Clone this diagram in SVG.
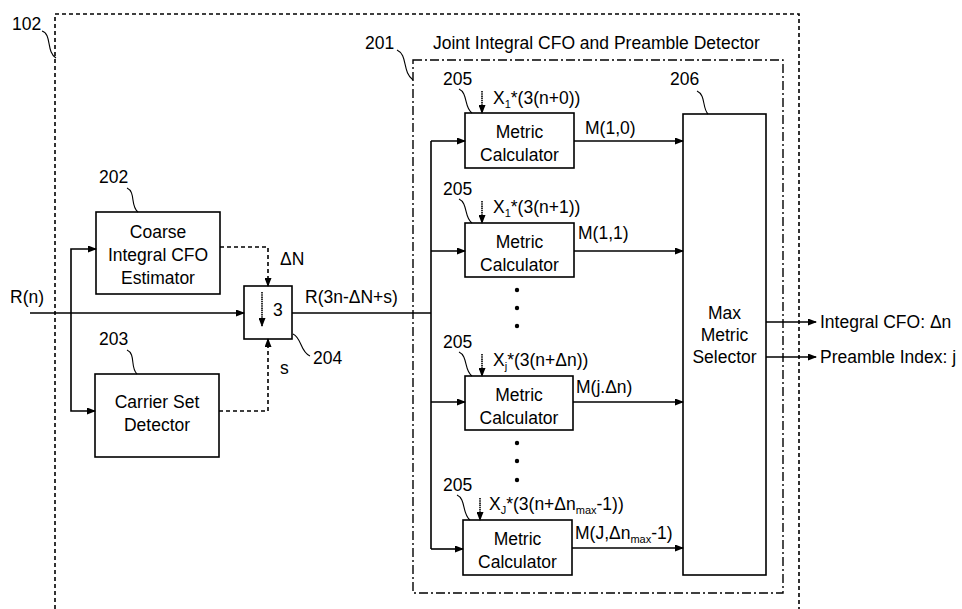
<svg xmlns="http://www.w3.org/2000/svg" width="962" height="609" viewBox="0 0 962 609">
<style>
text{font-family:"Liberation Sans",Arial,sans-serif;font-size:17.5px;fill:#000}
.c{text-anchor:middle}
.box{fill:#fff;stroke:#000;stroke-width:1.6}
.ln{fill:none;stroke:#000;stroke-width:1.6}
.dash{fill:none;stroke:#000;stroke-width:1.6;stroke-dasharray:4 3}
.lead{fill:none;stroke:#000;stroke-width:1.1}
.sub{font-size:11px}
</style>
<defs>
<marker id="ah" markerWidth="9" markerHeight="7" refX="8" refY="3.5" orient="auto" markerUnits="userSpaceOnUse">
<path d="M0,0 L9,3.5 L0,7 z" fill="#000"/>
</marker>
</defs>
<rect width="962" height="609" fill="#fff"/>
<g id="n102">
<path d="M55,609 V14 H799 V609" fill="none" stroke="#000" stroke-width="1.6" stroke-dasharray="4 3"/>
<text x="12" y="30">102</text>
<path class="lead" d="M42,31 C52,34 46,52 56,58"/>
</g>
<g id="n201">
<rect x="413" y="60" width="370" height="533" fill="none" stroke="#000" stroke-width="1.4" stroke-dasharray="9 3 2 3"/>
<text x="365" y="49">201</text>
<path class="lead" d="M397,50 C408,55 402,72 413,80"/>
<text x="433" y="49">Joint Integral CFO and Preamble Detector</text>
</g>
<g id="n202">
<rect class="box" x="96" y="212" width="124" height="82"/>
<text class="c" x="158" y="238">Coarse</text>
<text class="c" x="158" y="261">Integral CFO</text>
<text class="c" x="158" y="284">Estimator</text>
<text x="99" y="183">202</text>
<path class="lead" d="M127,188 C136,192 130,206 138,212"/>
</g>
<g id="n203">
<rect class="box" x="95" y="374" width="124" height="83"/>
<text class="c" x="157" y="408">Carrier Set</text>
<text class="c" x="157" y="431">Detector</text>
<text x="99" y="345">203</text>
<path class="lead" d="M127,350 C136,354 130,368 137,374"/>
</g>
<g id="n204">
<rect class="box" x="244" y="286" width="48" height="53"/>
<path class="ln" d="M262,292 V326" stroke-dasharray="1.5 0.7" marker-end="url(#ah)"/>
<text x="273" y="316">3</text>
<text x="313" y="364">204</text>
<path class="lead" d="M293,334 C302,338 300,352 310,356"/>
</g>
<g id="n205a">
<rect class="box" x="465" y="113" width="109" height="55"/>
<text class="c" x="519.5" y="138">Metric</text>
<text class="c" x="519.5" y="161">Calculator</text>
<text x="443" y="85">205</text>
<path class="lead" d="M459,89 C468,93 464,108 472,113"/>
<text x="493" y="104">X<tspan class="sub" dy="4">1</tspan><tspan dy="-4">*(3(n+0))</tspan></text>
</g>
<g id="n205b">
<rect class="box" x="465" y="223" width="109" height="54"/>
<text class="c" x="519.5" y="248">Metric</text>
<text class="c" x="519.5" y="271">Calculator</text>
<text x="443" y="195">205</text>
<path class="lead" d="M459,199 C468,203 464,218 472,223"/>
<text x="493" y="213">X<tspan class="sub" dy="4">1</tspan><tspan dy="-4">*(3(n+1))</tspan></text>
</g>
<g id="n205c">
<rect class="box" x="465" y="376" width="108" height="54"/>
<text class="c" x="519" y="401">Metric</text>
<text class="c" x="519" y="424">Calculator</text>
<text x="443" y="348">205</text>
<path class="lead" d="M459,352 C468,356 464,371 472,376"/>
<text x="493" y="366">X<tspan class="sub" dy="4">j</tspan><tspan dy="-4">*(3(n+Δn))</tspan></text>
</g>
<g id="n205d">
<rect class="box" x="463" y="520" width="109" height="55"/>
<text class="c" x="517.5" y="545">Metric</text>
<text class="c" x="517.5" y="568">Calculator</text>
<text x="443" y="491">205</text>
<path class="lead" d="M457,495 C466,499 462,514 470,520"/>
<text x="489" y="510">X<tspan class="sub" dy="4">J</tspan><tspan dy="-4">*(3(n+Δn</tspan><tspan class="sub" dy="4">max</tspan><tspan dy="-4">-1))</tspan></text>
</g>
<g id="n206">
<rect class="box" x="683" y="114" width="83" height="461"/>
<text class="c" x="724.5" y="319">Max</text>
<text class="c" x="724.5" y="341">Metric</text>
<text class="c" x="724.5" y="363">Selector</text>
<text x="670" y="85">206</text>
<path class="lead" d="M697,91 C706,95 702,108 708,114"/>
</g>
<g id="connectors">
<path class="ln" d="M30,313 H244" marker-end="url(#ah)"/>
<path class="ln" d="M71,313 V249 H96" marker-end="url(#ah)"/>
<path class="ln" d="M71,313 V411 H95" marker-end="url(#ah)"/>
<path class="dash" d="M220,247 H268 V286" marker-end="url(#ah)"/>
<path class="dash" d="M219,411 H268 V339" marker-end="url(#ah)"/>
<path class="ln" d="M292,313 H431"/>
<path class="ln" d="M431,141 V549"/>
<path class="ln" d="M431,141 H465" marker-end="url(#ah)"/>
<path class="ln" d="M431,251 H465" marker-end="url(#ah)"/>
<path class="ln" d="M431,402 H465" marker-end="url(#ah)"/>
<path class="ln" d="M431,549 H463" marker-end="url(#ah)"/>
<path class="ln" d="M482,91 V113" stroke-dasharray="1.5 0.7" marker-end="url(#ah)"/>
<path class="ln" d="M482,201 V223" stroke-dasharray="1.5 0.7" marker-end="url(#ah)"/>
<path class="ln" d="M482,354 V376" stroke-dasharray="1.5 0.7" marker-end="url(#ah)"/>
<path class="ln" d="M480,498 V520" stroke-dasharray="1.5 0.7" marker-end="url(#ah)"/>
<path class="ln" d="M574,141 H683" marker-end="url(#ah)"/>
<path class="ln" d="M574,251 H683" marker-end="url(#ah)"/>
<path class="ln" d="M573,402 H683" marker-end="url(#ah)"/>
<path class="ln" d="M572,548 H683" marker-end="url(#ah)"/>
<path class="ln" d="M766,322 H816" marker-end="url(#ah)"/>
<path class="ln" d="M766,357 H816" marker-end="url(#ah)"/>
<circle cx="517" cy="290" r="2.2"/>
<circle cx="517" cy="308" r="2.2"/>
<circle cx="517" cy="326" r="2.2"/>
<circle cx="517" cy="443" r="2.2"/>
<circle cx="517" cy="461" r="2.2"/>
<circle cx="517" cy="480" r="2.2"/>
</g>
<g id="labels">
<text x="10" y="303">R(n)</text>
<text x="305" y="303">R(3n-ΔN+s)</text>
<text x="280" y="265">ΔN</text>
<text x="280" y="374">s</text>
<text x="585" y="134">M(1,0)</text>
<text x="578" y="239">M(1,1)</text>
<text x="576" y="393">M(j.Δn)</text>
<text x="575" y="539">M(J,Δn<tspan class="sub" dy="4">max</tspan><tspan dy="-4">-1)</tspan></text>
<text x="820" y="328">Integral CFO: Δn</text>
<text x="820" y="363">Preamble Index: j</text>
</g>
</svg>
